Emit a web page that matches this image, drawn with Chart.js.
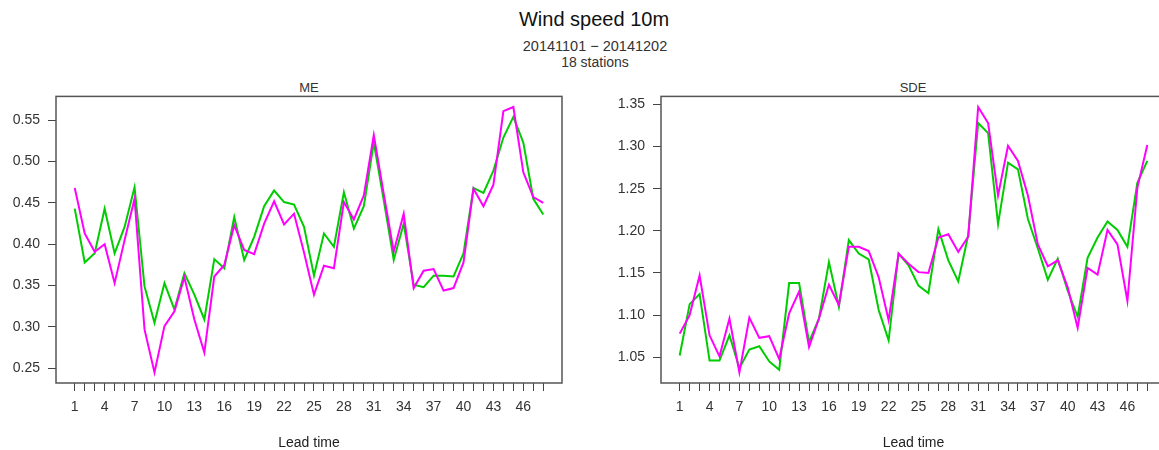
<!DOCTYPE html>
<html>
<head>
<meta charset="utf-8">
<script src="https://cdn.jsdelivr.net/npm/chart.js@4/dist/chart.umd.min.js"></script>
<style>
  body { margin: 0; width: 1159px; height: 450px; overflow: hidden; background: #fff;
         font-family: "Liberation Sans", Arial, sans-serif; position: relative; }
  .t { position: absolute; white-space: nowrap; transform: translate(-50%, -50%); color: #222; }
  .panel { position: absolute; top: 80px; width: 580px; height: 373px; }
</style>
</head>
<body>
<div class="t" style="left:594px; top:19px; font-size:20px; color:#111;">Wind speed 10m</div>
<div class="t" style="left:595px; top:46px; font-size:14.5px; color:#333;">20141101 &minus; 20141202</div>
<div class="t" style="left:595px; top:62px; font-size:14px; color:#333;">18 stations</div>
<div class="t" style="left:309px; top:87px; font-size:13px; color:#333;">ME</div>
<div class="t" style="left:913px; top:87px; font-size:13px; color:#333;">SDE</div>

<div class="panel" style="left:0px;"><canvas id="meChart" width="580" height="373"></canvas></div>
<div class="panel" style="left:600px;"><canvas id="sdeChart" width="580" height="373"></canvas></div>

<script>
const leadTime = [1, 2, 3, 4, 5, 6, 7, 8, 9, 10, 11, 12, 13, 14, 15, 16, 17, 18, 19, 20, 21, 22, 23, 24,
                  25, 26, 27, 28, 29, 30, 31, 32, 33, 34, 35, 36, 37, 38, 39, 40, 41, 42, 43, 44, 45, 46, 47, 48];
const xTickLabels = [1, 4, 7, 10, 13, 16, 19, 22, 25, 28, 31, 34, 37, 40, 43, 46];

const meTicks = [0.25, 0.30, 0.35, 0.40, 0.45, 0.50, 0.55];
const sdeTicks = [1.05, 1.10, 1.15, 1.20, 1.25, 1.30, 1.35];

// magenta series
const meMagenta = [0.468, 0.413, 0.391, 0.400, 0.353, 0.405, 0.455, 0.297, 0.245, 0.301, 0.319, 0.360,
                   0.309, 0.269, 0.361, 0.375, 0.423, 0.393, 0.388, 0.425, 0.452, 0.424, 0.437, 0.390,
                   0.339, 0.374, 0.371, 0.451, 0.430, 0.459, 0.532, 0.461, 0.391, 0.437, 0.347, 0.368,
                   0.370, 0.344, 0.347, 0.378, 0.467, 0.446, 0.472, 0.561, 0.566, 0.487, 0.457, 0.450];
// green series
const meGreen = [0.443, 0.378, 0.389, 0.443, 0.389, 0.421, 0.469, 0.349, 0.305, 0.353, 0.321, 0.365,
                 0.339, 0.309, 0.382, 0.371, 0.433, 0.381, 0.409, 0.446, 0.465, 0.451, 0.448, 0.421,
                 0.362, 0.413, 0.397, 0.463, 0.419, 0.446, 0.523, 0.453, 0.381, 0.425, 0.351, 0.348,
                 0.362, 0.362, 0.361, 0.389, 0.468, 0.462, 0.489, 0.529, 0.554, 0.523, 0.455, 0.436];

const sdeMagenta = [1.078, 1.100, 1.147, 1.076, 1.051, 1.096, 1.032, 1.097, 1.073, 1.075, 1.048, 1.102,
                    1.128, 1.062, 1.096, 1.136, 1.112, 1.181, 1.181, 1.176, 1.145, 1.094, 1.173, 1.161,
                    1.151, 1.150, 1.192, 1.196, 1.175, 1.193, 1.347, 1.328, 1.242, 1.301, 1.283, 1.242,
                    1.184, 1.158, 1.165, 1.133, 1.085, 1.156, 1.148, 1.201, 1.184, 1.117, 1.251, 1.302];
const sdeGreen = [1.052, 1.113, 1.125, 1.046, 1.046, 1.076, 1.037, 1.059, 1.063, 1.045, 1.035, 1.138,
                  1.138, 1.068, 1.096, 1.163, 1.110, 1.189, 1.173, 1.166, 1.106, 1.070, 1.173, 1.159,
                  1.135, 1.126, 1.202, 1.165, 1.140, 1.195, 1.328, 1.316, 1.208, 1.281, 1.273, 1.214,
                  1.179, 1.142, 1.167, 1.129, 1.098, 1.168, 1.192, 1.211, 1.201, 1.181, 1.257, 1.283];

// box round the plot region, like R's box()
const boxPlugin = {
  id: 'box',
  afterDraw(chart) {
    const a = chart.chartArea, c = chart.ctx;
    c.save();
    c.strokeStyle = '#555';
    c.lineWidth = 1.5;
    c.strokeRect(a.left, a.top, a.right - a.left, a.bottom - a.top);
    c.restore();
  }
};

function makePanel(id, yMin, yMax, yTicks, magenta, green, yWidth, padRight) {
  const pts = arr => leadTime.map((v, i) => ({ x: v, y: arr[i] }));
  return new Chart(document.getElementById(id), {
    type: 'line',
    data: {
      datasets: [
        { data: pts(magenta), borderColor: '#ff00ff', borderWidth: 2, pointRadius: 0, tension: 0 },
        { data: pts(green), borderColor: '#00cd00', borderWidth: 2, pointRadius: 0, tension: 0 }
      ]
    },
    options: {
      responsive: false,
      animation: false,
      layout: { padding: { left: 0, right: padRight, top: 15, bottom: 0 } },
      plugins: { legend: { display: false }, tooltip: { enabled: false } },
      scales: {
        x: {
          type: 'linear', min: -0.88, max: 49.88,
          afterBuildTicks: s => { s.ticks = leadTime.map(v => ({ value: v })); },
          afterFit: s => { s.height = 70; },
          ticks: {
            autoSkip: false, maxRotation: 0, padding: 8, color: '#333',
            font: { family: 'Liberation Sans', size: 14 },
            callback: v => xTickLabels.includes(v) ? String(v) : ''
          },
          grid: { drawOnChartArea: false, tickLength: 8, color: '#444', lineWidth: 1 },
          border: { display: false },
          title: { display: true, text: 'Lead time', color: '#222',
                   font: { family: 'Liberation Sans', size: 14 }, padding: { top: 0, bottom: 1 } }
        },
        y: {
          min: yMin, max: yMax,
          afterBuildTicks: s => { s.ticks = yTicks.map(v => ({ value: v })); },
          afterFit: s => { s.width = yWidth; },
          ticks: { padding: 8, color: '#333', font: { family: 'Liberation Sans', size: 14 },
                   callback: v => v.toFixed(2) },
          grid: { drawOnChartArea: false, tickLength: 8, color: '#444', lineWidth: 1 },
          border: { display: false }
        }
      }
    },
    plugins: [boxPlugin]
  });
}

makePanel('meChart', 0.2322, 0.5788, meTicks, meMagenta, meGreen, 56, 18);
makePanel('sdeChart', 1.0194, 1.3596, sdeTicks, sdeMagenta, sdeGreen, 61, 14);
</script>
</body>
</html>
